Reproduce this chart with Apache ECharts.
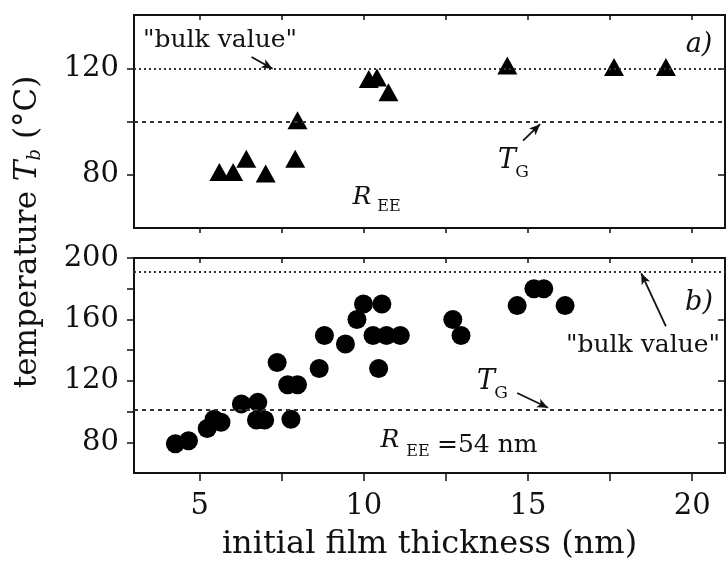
<!DOCTYPE html>
<html>
<head>
<meta charset="utf-8">
<script src="https://cdn.jsdelivr.net/npm/echarts@6/dist/echarts.min.js"></script>
<style>
  html, body { margin: 0; padding: 0; background: #fff; }
  #chart { width: 727px; height: 562px; }
</style>
</head>
<body>
<div id="chart"></div>
<script>
// Panel a): dewetting onset temperature vs initial film thickness (triangles)
const thicknessA = [5.60, 6.02, 6.42, 7.01, 7.91, 7.98, 10.15, 10.40, 10.75, 14.37, 17.62, 19.20];
const tempA      = [81, 81, 86, 80.5, 86, 100.5, 116, 116.5, 111, 121, 120.5, 120.5];

// Panel b): same quantity for the R_EE = 54 nm polymer (circles)
const thicknessB = [4.26, 4.66, 5.23, 5.44, 5.65, 6.27, 6.77, 6.73, 6.98, 7.78, 7.36, 7.68, 7.98,
                    8.64, 8.80, 9.44, 9.79, 9.99, 10.55, 10.28, 10.69, 11.11, 10.45, 12.71, 12.96,
                    14.67, 15.18, 15.48, 16.13];
const tempB      = [79, 81, 89, 95, 93, 105, 106, 94.5, 94.5, 95, 132, 117.5, 117.5,
                    128, 149.5, 144, 160, 170, 170, 149.5, 149.5, 149.5, 128, 160, 149.5,
                    169, 180, 180, 169];

// Reference levels
const bulkA = 120, tgA = 100;
const bulkB = 191, tgB = 101;

// Axis ticks and labels
const xTicks   = [5, 7.5, 10, 12.5, 15, 17.5, 20];
const xLabels  = [5, 10, 15, 20];
const yTicksA  = [80, 100, 120];
const yLabelsA = [80, 120];
const yTicksB  = [80, 100, 120, 140, 160, 180, 200];
const yLabelsB = [80, 120, 160, 200];

const FONT = 'DejaVu Serif';
const INK = '#111';

function xAxisBase(gridIndex, position, inside, len, showLabels) {
  return {
    type: 'value', gridIndex, position, min: 3, max: 21,
    axisLine: { show: true, onZero: false, lineStyle: { color: INK, width: 2 } },
    axisTick: { show: true, inside, length: len, customValues: xTicks, lineStyle: { color: INK, width: 1.5 } },
    axisLabel: showLabels
      ? { show: true, customValues: xLabels, color: INK, fontFamily: FONT, fontSize: 29, margin: 19 }
      : { show: false },
    splitLine: { show: false }
  };
}

function yAxisBase(gridIndex, position, min, max, ticks, labels, showLabels, inside) {
  return {
    type: 'value', gridIndex, position, min, max, interval: 20,
    axisLine: { show: true, onZero: false, lineStyle: { color: INK, width: 2 } },
    axisTick: { show: true, inside, length: 7, customValues: ticks, lineStyle: { color: INK, width: 1.5 } },
    axisLabel: showLabels
      ? { show: true, customValues: labels, color: INK, fontFamily: FONT, fontSize: 29, margin: 15 }
      : { show: false },
    splitLine: { show: false }
  };
}

function arrow(x1, y1, x2, y2) {
  return [
    { coord: [x1, y1], symbol: 'none' },
    { coord: [x2, y2], symbol: 'arrow', symbolSize: [7, 11] }
  ];
}

function refLines(bulk, tg, arrows) {
  return {
    silent: true,
    symbol: 'none',
    label: { show: false },
    animation: false,
    data: [
      { yAxis: bulk, lineStyle: { type: [2, 3], color: '#333', width: 2 } },
      { yAxis: tg, lineStyle: { type: [4, 4], color: '#333', width: 2 } }
    ].concat(arrows),
    lineStyle: { color: INK, width: 1.8, type: 'solid' }
  };
}

const chart = echarts.init(document.getElementById('chart'));

const option = {
  animation: false,
  backgroundColor: '#fff',
  grid: [
    { left: 134, right: 2, top: 15, height: 213 },
    { left: 134, right: 2, top: 258, height: 215 }
  ],
  xAxis: [
    xAxisBase(0, 'bottom', false, 5, false),
    xAxisBase(0, 'top', true, 5, false),
    Object.assign(xAxisBase(1, 'bottom', false, 8, true), {
      name: 'initial film thickness (nm)', nameLocation: 'middle', nameGap: 56,
      nameTextStyle: { color: INK, fontFamily: FONT, fontSize: 32 }
    }),
    xAxisBase(1, 'top', true, 5, false)
  ],
  yAxis: [
    yAxisBase(0, 'left', 60, 140, yTicksA, yLabelsA, true, false),
    yAxisBase(0, 'right', 60, 140, yLabelsA, yLabelsA, false, true),
    yAxisBase(1, 'left', 60, 200, yTicksB, yLabelsB, true, false),
    yAxisBase(1, 'right', 60, 200, yLabelsB, yLabelsB, false, true)
  ],
  series: [
    {
      type: 'scatter', xAxisIndex: 0, yAxisIndex: 0,
      symbol: 'triangle', symbolSize: [20, 18],
      itemStyle: { color: '#000', opacity: 1 },
      data: thicknessA.map((x, i) => [x, tempA[i]]),
      markLine: refLines(bulkA, tgA, [
        arrow(6.58, 124.2, 7.22, 119.8),
        arrow(14.85, 92.8, 15.37, 99.0)
      ]),
      z: 3
    },
    {
      type: 'scatter', xAxisIndex: 2, yAxisIndex: 2,
      symbol: 'circle', symbolSize: 19,
      itemStyle: { color: '#000', opacity: 1 },
      data: thicknessB.map((x, i) => [x, tempB[i]]),
      markLine: refLines(bulkB, tgB, [
        arrow(19.2, 155.4, 18.45, 190.0),
        arrow(14.67, 112.1, 15.61, 102.5)
      ]),
      z: 3
    }
  ],
  graphic: [
    // y-axis title
    {
      type: 'text', x: 28, y: 232, rotation: Math.PI / 2,
      style: {
        text: 'temperature {i|T}{s|b} (°C)',
        fill: INK, font: '31px "DejaVu Serif"',
        align: 'center', verticalAlign: 'middle',
        rich: {
          i: { fontFamily: FONT, fontStyle: 'italic', fontSize: 31, fill: INK },
          s: { fontFamily: FONT, fontStyle: 'italic', fontSize: 18, fill: INK, padding: [14, 0, 0, 0] }
        }
      }
    },
    // panel a) annotations
    { type: 'text', x: 220, y: 40, style: { text: '"bulk value"', font: '25px "DejaVu Serif"', fill: INK, align: 'center', verticalAlign: 'middle' } },
    { type: 'text', x: 699, y: 45, style: { text: 'a)', font: 'italic 27px "DejaVu Serif"', fill: INK, align: 'center', verticalAlign: 'middle' } },
    { type: 'text', x: 507, y: 161, style: { text: 'T', font: 'italic 27px "DejaVu Serif"', fill: INK, align: 'center', verticalAlign: 'middle' } },
    { type: 'text', x: 522, y: 173, style: { text: 'G', font: '17px "DejaVu Serif"', fill: INK, align: 'center', verticalAlign: 'middle' } },
    { type: 'text', x: 362, y: 197, style: { text: 'R', font: 'italic 25px "DejaVu Serif"', fill: INK, align: 'center', verticalAlign: 'middle' } },
    { type: 'text', x: 389, y: 207, style: { text: 'EE', font: '16px "DejaVu Serif"', fill: INK, align: 'center', verticalAlign: 'middle' } },
    // panel b) annotations
    { type: 'text', x: 699, y: 303, style: { text: 'b)', font: 'italic 27px "DejaVu Serif"', fill: INK, align: 'center', verticalAlign: 'middle' } },
    { type: 'text', x: 643, y: 345, style: { text: '"bulk value"', font: '25px "DejaVu Serif"', fill: INK, align: 'center', verticalAlign: 'middle' } },
    { type: 'text', x: 486, y: 382, style: { text: 'T', font: 'italic 27px "DejaVu Serif"', fill: INK, align: 'center', verticalAlign: 'middle' } },
    { type: 'text', x: 501, y: 394, style: { text: 'G', font: '17px "DejaVu Serif"', fill: INK, align: 'center', verticalAlign: 'middle' } },
    { type: 'text', x: 390, y: 440, style: { text: 'R', font: 'italic 25px "DejaVu Serif"', fill: INK, align: 'center', verticalAlign: 'middle' } },
    { type: 'text', x: 418, y: 452, style: { text: 'EE', font: '16px "DejaVu Serif"', fill: INK, align: 'center', verticalAlign: 'middle' } },
    { type: 'text', x: 437, y: 445, style: { text: '=54 nm', font: '25px "DejaVu Serif"', fill: INK, align: 'left', verticalAlign: 'middle' } }
  ]
};

chart.setOption(option);
</script>
</body>
</html>
